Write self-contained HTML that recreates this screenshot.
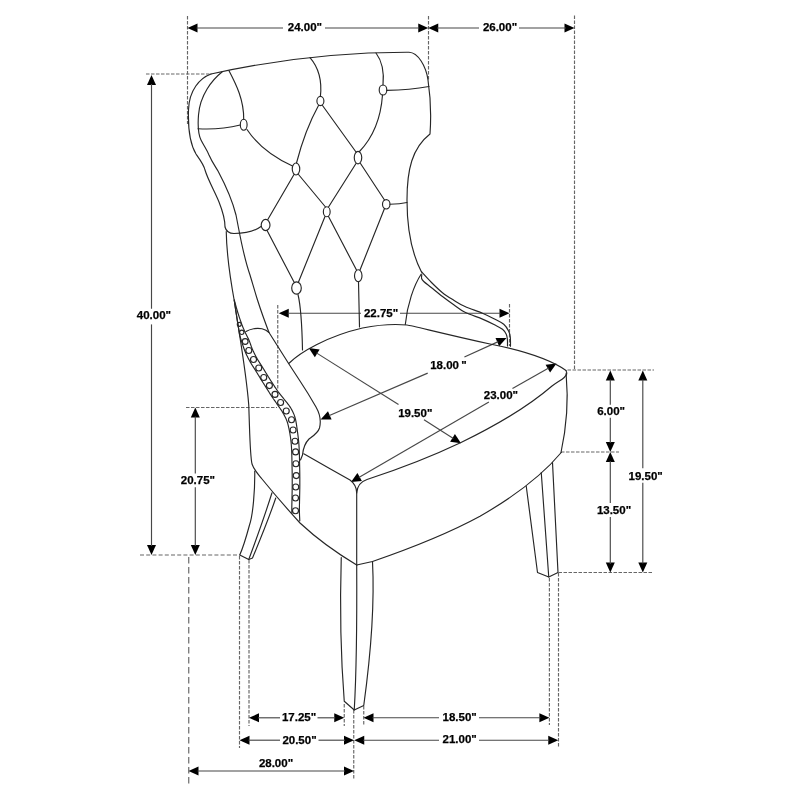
<!DOCTYPE html>
<html><head><meta charset="utf-8"><style>
html,body{margin:0;padding:0;background:#fff;}
svg{display:block;will-change:transform;}
.c{fill:none;stroke:#262626;stroke-width:1.15;stroke-linejoin:round;stroke-linecap:round;}
.d{stroke:#474747;stroke-width:1.15;}
.ds{stroke:#666;stroke-width:1.15;stroke-dasharray:3.5 1.5;}
.ds2{stroke:#666;stroke-width:1.15;stroke-dasharray:6.4 3.6;}
.ds3{stroke:#666;stroke-width:1.15;stroke-dasharray:4 2.2;}
text{font-family:"Liberation Sans",sans-serif;font-weight:bold;font-size:11.5px;fill:#000;stroke:#000;stroke-width:0.25;}
</style></head><body>
<svg width="800" height="800" viewBox="0 0 800 800">
<rect width="800" height="800" fill="#fff"/>
<line x1="187.5" y1="16" x2="187.5" y2="124" class="ds"/>
<line x1="428.5" y1="16" x2="428.5" y2="80" class="ds"/>
<line x1="574.5" y1="15.5" x2="574.5" y2="370" class="ds"/>
<line x1="146" y1="74" x2="211" y2="74" class="ds"/>
<line x1="509.5" y1="304" x2="509.5" y2="346" class="ds"/>
<line x1="277.75" y1="305" x2="277.75" y2="389" class="ds"/>
<line x1="186" y1="407.5" x2="277" y2="407.5" class="ds"/>
<line x1="140" y1="555" x2="240" y2="555" class="ds3"/>
<line x1="567.5" y1="370" x2="654" y2="370" class="ds"/>
<line x1="561" y1="452" x2="619" y2="452" class="ds"/>
<line x1="558.5" y1="572.5" x2="652.5" y2="572.5" class="ds"/>
<line x1="188.75" y1="557" x2="188.75" y2="784" class="ds2"/>
<line x1="239.5" y1="556" x2="239.5" y2="748" class="ds"/>
<line x1="249" y1="560" x2="249" y2="726" class="ds"/>
<line x1="344.25" y1="704" x2="344.25" y2="726" class="ds"/>
<line x1="353.75" y1="710" x2="353.75" y2="779" class="ds"/>
<line x1="363.75" y1="706" x2="363.75" y2="726" class="ds"/>
<line x1="549.4" y1="578" x2="549.4" y2="725" class="ds"/>
<line x1="558.5" y1="573" x2="558.5" y2="747" class="ds"/>
<path d="M187.50,28.00L197.50,23.50L197.50,32.50Z" fill="#000"/>
<path d="M428.25,28.00L418.25,32.50L418.25,23.50Z" fill="#000"/>
<line x1="196.5" y1="28" x2="283" y2="28" class="d"/>
<line x1="325" y1="28" x2="419.25" y2="28" class="d"/>
<path d="M428.25,28.00L438.25,23.50L438.25,32.50Z" fill="#000"/>
<path d="M574.50,28.00L564.50,32.50L564.50,23.50Z" fill="#000"/>
<line x1="437" y1="28" x2="479" y2="28" class="d"/>
<line x1="519" y1="28" x2="566" y2="28" class="d"/>
<text x="304.90" y="30.77" text-anchor="middle">24.00"</text>
<text x="500.00" y="30.77" text-anchor="middle">26.00"</text>
<path d="M151.50,75.00L156.00,85.00L147.00,85.00Z" fill="#000"/>
<path d="M151.50,555.00L147.00,545.00L156.00,545.00Z" fill="#000"/>
<line x1="151.5" y1="84" x2="151.5" y2="308.75" class="d"/>
<line x1="151.5" y1="324.4" x2="151.5" y2="546" class="d"/>
<text x="153.90" y="319.42" text-anchor="middle">40.00"</text>
<path d="M195.30,407.50L199.80,417.50L190.80,417.50Z" fill="#000"/>
<path d="M195.30,555.00L190.80,545.00L199.80,545.00Z" fill="#000"/>
<line x1="195.3" y1="416.5" x2="195.3" y2="473.4" class="d"/>
<line x1="195.3" y1="487.2" x2="195.3" y2="546" class="d"/>
<text x="197.95" y="484.42" text-anchor="middle">20.75"</text>
<path d="M278.75,313.20L288.75,308.70L288.75,317.70Z" fill="#000"/>
<path d="M509.50,313.20L499.50,317.70L499.50,308.70Z" fill="#000"/>
<line x1="287.75" y1="313.2" x2="361" y2="313.2" class="d"/>
<line x1="400" y1="313.2" x2="500.5" y2="313.2" class="d"/>
<text x="381.10" y="316.92" text-anchor="middle">22.75"</text>
<path d="M308.75,348.10L319.62,349.58L314.85,357.21Z" fill="#000"/>
<path d="M461.00,443.20L450.13,441.72L454.90,434.09Z" fill="#000"/>
<line x1="316.38" y1="352.87" x2="398.5" y2="404.4" class="d"/>
<line x1="424" y1="419.8" x2="453.37" y2="438.43" class="d"/>
<text x="415.25" y="416.52" text-anchor="middle">19.50"</text>
<path d="M320.60,419.40L327.96,411.27L331.57,419.51Z" fill="#000"/>
<path d="M506.50,338.00L499.14,346.13L495.53,337.89Z" fill="#000"/>
<line x1="328.84" y1="415.79" x2="427.7" y2="373.1" class="d"/>
<line x1="464.4" y1="357.1" x2="498.26" y2="341.61" class="d"/>
<text x="448.50" y="369.12" text-anchor="middle">18.00&#8201;"</text>
<path d="M351.00,482.00L357.42,473.11L361.91,480.91Z" fill="#000"/>
<path d="M556.50,363.60L550.08,372.49L545.59,364.69Z" fill="#000"/>
<line x1="358.80" y1="477.51" x2="488.9" y2="402.1" class="d"/>
<line x1="512.5" y1="388.6" x2="548.70" y2="368.09" class="d"/>
<text x="500.90" y="399.32" text-anchor="middle">23.00"</text>
<path d="M610.30,370.50L614.80,380.50L605.80,380.50Z" fill="#000"/>
<path d="M610.30,452.00L605.80,442.00L614.80,442.00Z" fill="#000"/>
<line x1="610.3" y1="379.5" x2="610.3" y2="404.75" class="d"/>
<line x1="610.3" y1="417.75" x2="610.3" y2="443" class="d"/>
<path d="M610.30,452.00L614.80,462.00L605.80,462.00Z" fill="#000"/>
<path d="M610.30,572.50L605.80,562.50L614.80,562.50Z" fill="#000"/>
<line x1="610.3" y1="461" x2="610.3" y2="503" class="d"/>
<line x1="610.3" y1="517" x2="610.3" y2="564" class="d"/>
<text x="611.10" y="415.37" text-anchor="middle">6.00"</text>
<text x="614.00" y="514.12" text-anchor="middle">13.50"</text>
<path d="M642.80,370.50L647.30,380.50L638.30,380.50Z" fill="#000"/>
<path d="M642.80,572.50L638.30,562.50L647.30,562.50Z" fill="#000"/>
<line x1="642.8" y1="379.5" x2="642.8" y2="468.2" class="d"/>
<line x1="642.8" y1="482.8" x2="642.8" y2="563.5" class="d"/>
<text x="645.70" y="480.02" text-anchor="middle">19.50"</text>
<path d="M249.00,717.80L259.00,713.30L259.00,722.30Z" fill="#000"/>
<path d="M344.25,717.80L334.25,722.30L334.25,713.30Z" fill="#000"/>
<line x1="258" y1="717.8" x2="280" y2="717.8" class="d"/>
<line x1="317.5" y1="717.8" x2="335.25" y2="717.8" class="d"/>
<text x="299.10" y="721.12" text-anchor="middle">17.25"</text>
<path d="M239.50,740.20L249.50,735.70L249.50,744.70Z" fill="#000"/>
<path d="M354.00,740.20L344.00,744.70L344.00,735.70Z" fill="#000"/>
<line x1="248.5" y1="740.2" x2="280" y2="740.2" class="d"/>
<line x1="318.5" y1="740.2" x2="345" y2="740.2" class="d"/>
<text x="299.50" y="743.62" text-anchor="middle">20.50"</text>
<path d="M188.50,771.00L198.50,766.50L198.50,775.50Z" fill="#000"/>
<path d="M354.00,771.00L344.00,775.50L344.00,766.50Z" fill="#000"/>
<line x1="197.5" y1="771" x2="345" y2="771" class="d"/>
<text x="276.00" y="767.37" text-anchor="middle">28.00"</text>
<path d="M363.50,717.70L373.50,713.20L373.50,722.20Z" fill="#000"/>
<path d="M549.40,717.70L539.40,722.20L539.40,713.20Z" fill="#000"/>
<line x1="372.5" y1="717.7" x2="439" y2="717.7" class="d"/>
<line x1="479" y1="717.7" x2="540.4" y2="717.7" class="d"/>
<text x="459.70" y="720.87" text-anchor="middle">18.50"</text>
<path d="M354.25,740.20L364.25,735.70L364.25,744.70Z" fill="#000"/>
<path d="M558.25,740.20L548.25,744.70L548.25,735.70Z" fill="#000"/>
<line x1="363.25" y1="740.2" x2="439" y2="740.2" class="d"/>
<line x1="479" y1="740.2" x2="549.25" y2="740.2" class="d"/>
<text x="459.70" y="743.37" text-anchor="middle">21.00"</text>
<path d="M211,74 Q310,52 409,52.3 C418,52.6 426,66 428,80 C431,100 431,120 430,134 C412,148 407,170 407,200 C407,225 410,250 421.5,272" class="c"/>
<path d="M211,74 C200,78 189,90 188.5,110 C188,125 189,142 196,154 C201,161 204,165 205,170 C208,180 215,192 219,202 C223,212 225,220 225,227 C226,231 229,233.5 234,233.5 C245,233.5 255,231 261,226.5" class="c"/>
<path d="M222.25,71.75 C212,80 200,95 198.5,115 C197.5,128 198,134 201,140 C204,146 207,150 209,155 C212,162 215,166 218,171 C226,186 233,203 236,215 C240,235 243,255 250,275 C253,285 255,292 257.5,300 C261,311 265,322 269,332.5" class="c"/>
<path d="M226.25,231.5 C226.5,250 229,272 234.5,302 C238.5,330 246,370 248.75,405 C250,440 250,455 252,464 C254,470 258,474 262,479 C275,495 290,512 300,523 C315,537 335,552 356.7,565" class="c"/>
<path d="M234.30,300.00 L234.36,300.72 L234.44,301.65 L234.61,302.74 L234.78,303.97 L234.98,305.30 L235.19,306.69 L235.40,308.12 L235.61,309.54 L235.82,310.92 L236.02,312.22 L236.22,313.51 L236.43,314.83 L236.64,316.18 L236.85,317.54 L237.06,318.89 L237.27,320.23 L237.48,321.53 L237.68,322.78 L237.87,323.97 L238.04,325.07 L238.20,326.09 L238.35,327.02 L238.49,327.89 L238.62,328.71 L238.75,329.50 L238.87,330.27 L238.99,331.04 L239.11,331.82 L239.24,332.62 L239.38,333.49 L239.52,334.40 L239.74,335.33 L240.02,336.26 L240.30,337.20 L240.59,338.15 L240.88,339.09 L241.16,340.03 L241.45,340.97 L241.72,341.90 L241.99,342.82 L242.28,343.73 L242.60,344.65 L242.93,345.58 L243.26,346.54 L243.60,347.51 L243.95,348.49 L244.31,349.49 L244.69,350.49 L245.09,351.50 L245.51,352.50 L245.94,353.47 L246.37,354.43 L246.82,355.39 L247.28,356.33 L247.74,357.27 L248.22,358.20 L248.70,359.12 L249.19,360.04 L249.68,360.95 L250.19,361.87 L250.72,362.79 L251.26,363.70 L251.80,364.59 L252.36,365.47 L252.91,366.33 L253.45,367.18 L254.00,368.02 L254.53,368.85 L255.06,369.68 L255.57,370.50 L256.09,371.34 L256.60,372.18 L257.12,373.02 L257.63,373.87 L258.15,374.72 L258.66,375.57 L259.19,376.42 L259.71,377.28 L260.24,378.14 L260.77,379.00 L261.30,379.86 L261.84,380.72 L262.38,381.58 L262.92,382.44 L263.46,383.30 L264.00,384.17 L264.55,385.03 L265.09,385.89 L265.64,386.76 L266.19,387.63 L266.74,388.50 L267.29,389.38 L267.85,390.27 L268.41,391.16 L268.97,392.06 L269.54,392.96 L270.11,393.85 L270.68,394.74 L271.26,395.63 L271.83,396.50 L272.41,397.36 L272.98,398.21 L273.56,399.03 L274.12,399.85 L274.69,400.65 L275.25,401.45 L275.80,402.24 L276.36,403.03 L276.91,403.83 L277.46,404.64 L278.04,405.49 L278.63,406.34 L279.22,407.18 L279.80,408.02 L280.37,408.85 L280.93,409.68 L281.48,410.50 L282.00,411.31 L282.49,412.10 L282.96,412.91 L283.43,413.73 L283.89,414.55 L284.33,415.36 L284.76,416.16 L285.16,416.96 L285.55,417.76 L285.92,418.56 L286.27,419.37 L286.61,420.19 L286.92,421.04 L287.22,421.90 L287.50,422.79 L287.77,423.71 L288.02,424.65 L288.27,425.62 L288.50,426.61 L288.73,427.62 L288.95,428.64 L289.16,429.69 L289.37,430.74 L289.58,431.79 L289.77,432.86 L289.96,433.95 L290.14,435.05 L290.31,436.16 L290.47,437.27 L290.63,438.38 L290.77,439.49 L290.90,440.58 L291.02,441.66 L291.13,442.71 L291.22,443.74 L291.31,444.76 L291.38,445.78 L291.44,446.80 L291.50,447.84 L291.56,448.88 L291.61,449.95 L291.65,451.04 L291.70,452.16 L291.75,453.29 L291.79,454.45 L291.82,455.63 L291.85,456.83 L291.88,458.04 L291.91,459.25 L291.93,460.47 L291.95,461.68 L291.98,462.89 L292.00,464.08 L292.03,465.25 L292.05,466.40 L292.07,467.55 L292.10,468.69 L292.12,469.82 L292.14,470.95 L292.16,472.09 L292.17,473.23 L292.19,474.37 L292.20,475.53 L292.21,476.71 L292.22,477.91 L292.22,479.12 L292.22,480.34 L292.23,481.56 L292.22,482.78 L292.22,483.98 L292.22,485.17 L292.21,486.33 L292.20,487.46 L292.19,488.55 L292.17,489.60 L292.16,490.62 L292.14,491.62 L292.11,492.62 L292.09,493.62 L292.07,494.65 L292.04,495.70 L292.02,496.79 L292.00,497.93 L291.98,499.12 L291.95,500.36 L291.92,501.65 L291.89,502.97 L291.86,504.31 L291.84,505.66 L291.82,506.99 L291.80,508.29 L291.80,509.56 L291.80,510.79 L291.82,512.00 L291.85,513.24 L291.89,513.54" class="c"/>
<path d="M234.30,300.00 L234.49,300.70 L234.73,301.60 L235.01,302.66 L235.33,303.85 L235.68,305.14 L236.04,306.48 L236.42,307.85 L236.81,309.22 L237.19,310.53 L237.56,311.78 L237.94,312.99 L238.34,314.25 L238.75,315.53 L239.18,316.82 L239.61,318.11 L240.04,319.37 L240.46,320.60 L240.87,321.78 L241.27,322.89 L241.64,323.93 L241.99,324.87 L242.31,325.72 L242.62,326.50 L242.91,327.24 L243.20,327.94 L243.48,328.62 L243.78,329.30 L244.09,330.00 L244.42,330.73 L244.77,331.51 L245.14,332.31 L245.53,333.13 L245.94,333.96 L246.36,334.80 L246.79,335.67 L247.23,336.54 L247.67,337.43 L248.12,338.34 L248.57,339.25 L249.01,340.18 L249.42,341.13 L249.77,342.11 L250.11,343.08 L250.44,344.04 L250.77,344.99 L251.10,345.93 L251.44,346.85 L251.78,347.75 L252.13,348.63 L252.49,349.50 L252.87,350.37 L253.27,351.25 L253.68,352.12 L254.10,352.99 L254.53,353.86 L254.97,354.72 L255.42,355.58 L255.88,356.44 L256.34,357.29 L256.81,358.13 L257.28,358.96 L257.76,359.77 L258.26,360.58 L258.78,361.40 L259.31,362.23 L259.84,363.07 L260.39,363.91 L260.94,364.76 L261.49,365.63 L262.03,366.50 L262.56,367.36 L263.09,368.22 L263.61,369.07 L264.12,369.92 L264.64,370.77 L265.16,371.62 L265.67,372.46 L266.19,373.31 L266.71,374.15 L267.23,375.00 L267.76,375.85 L268.29,376.70 L268.83,377.55 L269.36,378.40 L269.90,379.25 L270.45,380.11 L270.99,380.96 L271.54,381.82 L272.09,382.68 L272.65,383.55 L273.22,384.42 L273.79,385.30 L274.36,386.18 L274.94,387.06 L275.52,387.93 L276.10,388.80 L276.68,389.65 L277.27,390.49 L277.86,391.31 L278.44,392.12 L279.03,392.90 L279.61,393.66 L280.21,394.42 L280.81,395.17 L281.42,395.92 L282.04,396.68 L282.66,397.44 L283.30,398.21 L283.94,399.00 L284.57,399.79 L285.20,400.56 L285.83,401.34 L286.48,402.13 L287.13,402.95 L287.79,403.78 L288.45,404.64 L289.09,405.52 L289.72,406.43 L290.34,407.36 L290.91,408.29 L291.44,409.20 L291.94,410.10 L292.42,411.01 L292.88,411.94 L293.32,412.90 L293.75,413.88 L294.14,414.88 L294.52,415.91 L294.86,416.97 L295.18,418.06 L295.47,419.18 L295.72,420.30 L295.95,421.42 L296.15,422.54 L296.33,423.65 L296.50,424.77 L296.66,425.88 L296.82,426.99 L296.97,428.09 L297.13,429.20 L297.29,430.34 L297.45,431.49 L297.61,432.66 L297.77,433.84 L297.92,435.02 L298.07,436.20 L298.21,437.37 L298.35,438.54 L298.48,439.70 L298.60,440.84 L298.71,441.97 L298.81,443.08 L298.89,444.18 L298.97,445.27 L299.03,446.35 L299.09,447.43 L299.15,448.51 L299.20,449.60 L299.25,450.71 L299.30,451.84 L299.34,453.01 L299.39,454.21 L299.42,455.42 L299.45,456.64 L299.48,457.87 L299.51,459.10 L299.53,460.33 L299.55,461.54 L299.58,462.74 L299.60,463.92 L299.62,465.09 L299.65,466.24 L299.67,467.39 L299.70,468.54 L299.72,469.68 L299.74,470.82 L299.76,471.97 L299.77,473.13 L299.79,474.29 L299.80,475.47 L299.81,476.66 L299.82,477.87 L299.82,479.10 L299.82,480.33 L299.83,481.56 L299.82,482.79 L299.82,484.01 L299.82,485.21 L299.81,486.38 L299.80,487.54 L299.79,488.65 L299.77,489.72 L299.75,490.76 L299.73,491.78 L299.71,492.79 L299.69,493.80 L299.67,494.82 L299.64,495.86 L299.62,496.94 L299.60,498.07 L299.58,499.27 L299.55,500.53 L299.52,501.82 L299.49,503.14 L299.46,504.47 L299.44,505.79 L299.42,507.09 L299.40,508.35 L299.40,509.57 L299.40,510.71 L299.42,511.85 L299.45,513.01 L299.49,514.19 L299.53,515.36 L299.58,516.50 L299.64,517.57 L299.69,518.56 L299.73,519.45 L299.77,520.22 L299.80,520.83" class="c"/>
<circle cx="239.3" cy="324.3" r="2" class="c" fill="#fff"/>
<circle cx="241.75" cy="332.3" r="2.2" class="c" fill="#fff"/>
<circle cx="245.2" cy="341.5" r="2.9" class="c" fill="#fff"/>
<circle cx="248.8" cy="350.5" r="3" class="c" fill="#fff"/>
<circle cx="253.5" cy="359.5" r="3" class="c" fill="#fff"/>
<circle cx="258.75" cy="368" r="3" class="c" fill="#fff"/>
<circle cx="263.75" cy="377.5" r="3" class="c" fill="#fff"/>
<circle cx="269.4" cy="385.6" r="3" class="c" fill="#fff"/>
<circle cx="275" cy="394.4" r="3" class="c" fill="#fff"/>
<circle cx="280.6" cy="402.5" r="3" class="c" fill="#fff"/>
<circle cx="286.25" cy="411" r="3" class="c" fill="#fff"/>
<circle cx="291.5" cy="419.75" r="3" class="c" fill="#fff"/>
<circle cx="293.1" cy="430" r="3" class="c" fill="#fff"/>
<circle cx="295" cy="441.25" r="3" class="c" fill="#fff"/>
<circle cx="295.6" cy="451.9" r="3" class="c" fill="#fff"/>
<circle cx="295.9" cy="463.75" r="3" class="c" fill="#fff"/>
<circle cx="296.25" cy="475.6" r="3" class="c" fill="#fff"/>
<circle cx="295.75" cy="487" r="3" class="c" fill="#fff"/>
<circle cx="295.5" cy="498" r="3" class="c" fill="#fff"/>
<circle cx="295.5" cy="510.75" r="3" class="c" fill="#fff"/>
<path d="M246,331.5 C250,329 257,327.5 262,328.8 C266,329.8 268,331.5 269,332.5 L288.75,363.75 L300,381 C306,390 312,400 316,407 C320,414 321,422 319.5,428 C318,433 313,436 309,439 C305,443 303,450 302.5,455 L300.5,460" class="c"/>
<path d="M254.75,471 C255,490 253,515 249.5,525 C246,538 242,550 239.75,555 L248.75,559.5 L252.5,558 C260,540 270,515 275.75,498" class="c"/>
<path d="M248.75,559.5 C256,540 265,515 272,492.75" class="c"/>
<path d="M303.75,453.75 L330,468.75 L350,480 C354,483 356.7,488 356.7,493 L356.7,565" class="c"/>
<path d="M356.7,493 C357.2,485 361,481.5 367,479.5 C390,472 420,462 461,442.5 C495,426 530,405 552,386 C560,380 566.5,378 566.25,373" class="c"/>
<path d="M566,370.5 C567,372 567,374 566.25,376 C568,395 568,420 561,452.5" class="c"/>
<path d="M356.7,565 L372.5,561.5 C400,552 440,538 480,516.25 C510,499 540,478 561.25,452.5" class="c"/>
<path d="M288.75,363.5 C300,352 328,336 362.5,328 C380,324.5 398,324.2 407,325 C412,325.5 440,333 490,344 C520,350 548,358 566,370.5" class="c"/>
<path d="M298,294.5 C300.5,305 302,325 302.5,350" class="c"/>
<path d="M358.5,281.75 L359.5,327" class="c"/>
<path d="M421.5,271.75 C423.12,273.50 427.75,278.75 431.25,282.25 C434.75,285.75 438.75,289.75 442.5,292.75 C446.25,295.75 450.00,297.94 453.75,300.25 C457.50,302.56 460.21,304.44 465,306.6 C469.79,308.76 477.50,311.08 482.5,313.2 C487.50,315.32 491.46,317.45 495,319.3 C498.54,321.15 501.48,322.35 503.75,324.3 C506.02,326.25 507.51,328.88 508.6,331 C509.69,333.12 509.98,334.45 510.3,337 C510.62,339.55 510.47,344.75 510.5,346.3" class="c"/>
<path d="M421.8,274.5 C421.77,275.17 421.28,277.33 421.6,278.5 C421.93,279.67 422.14,280.00 423.75,281.5 C425.36,283.00 428.12,285.00 431.25,287.5 C434.38,290.00 438.75,293.62 442.5,296.5 C446.25,299.38 450.00,302.12 453.75,304.75 C457.50,307.38 460.21,309.91 465,312.3 C469.79,314.69 477.50,316.98 482.5,319.1 C487.50,321.22 491.67,323.30 495,325 C498.33,326.70 500.62,327.77 502.5,329.3 C504.38,330.83 505.43,332.50 506.25,334.2 C507.07,335.90 507.19,337.53 507.4,339.5 C507.61,341.47 507.48,344.92 507.5,346" class="c"/>
<path d="M421.25,274 C414,285 407,305 405.3,324.5" class="c"/>
<path d="M341.25,557.5 C340,600 341,660 344.25,701.25 L354.25,710 L363.75,705.5 C370,660 375,610 372.5,561.5" class="c"/>
<path d="M356.7,565 C357,620 356,680 354.25,710" class="c"/>
<path d="M526.25,486.25 L537.5,572.5 L548.75,577 L558,572.5 L552.5,462.5" class="c"/>
<path d="M541.25,472.5 L548.75,577" class="c"/>
<path d="M229,70.7 C236,84 244,100 243.7,119.2" class="c"/>
<path d="M198,128.75 Q220,130 240.3,125" class="c"/>
<path d="M247,129.5 Q262,152 292.5,166" class="c"/>
<path d="M310,57.6 C319,68 322,82 320.4,96.4" class="c"/>
<path d="M318.5,105.5 Q305,130 296.5,163" class="c"/>
<path d="M322.5,105.5 L356,152" class="c"/>
<path d="M376,53 Q385,65 383,85" class="c"/>
<path d="M386.8,90.4 Q410,90 429,86.5" class="c"/>
<path d="M382.5,95 Q380,130 359.5,151.5" class="c"/>
<path d="M294,174.5 L267.8,219.5" class="c"/>
<path d="M298.5,174.5 L325.5,207" class="c"/>
<path d="M356,163.5 L328.5,207" class="c"/>
<path d="M360.5,163.5 L384.5,200" class="c"/>
<path d="M267.2,230.8 L294,282" class="c"/>
<path d="M325,216.5 L298.5,282" class="c"/>
<path d="M328.5,216.5 L356.5,270" class="c"/>
<path d="M384.5,208.5 L360,270" class="c"/>
<path d="M390,204.2 Q400,204 407,202.5" class="c"/>
<ellipse cx="243.7" cy="124.7" rx="3.4" ry="5.5" class="c" fill="#fff"/>
<ellipse cx="320.4" cy="101" rx="3.5" ry="4.6" class="c" fill="#fff"/>
<ellipse cx="383" cy="90" rx="3.8" ry="5" class="c" fill="#fff"/>
<ellipse cx="296" cy="169" rx="3.75" ry="6" class="c" fill="#fff"/>
<ellipse cx="358" cy="157.6" rx="3.75" ry="6.2" class="c" fill="#fff"/>
<ellipse cx="386.25" cy="204.25" rx="3.75" ry="4.7" class="c" fill="#fff"/>
<ellipse cx="265.6" cy="225" rx="4.4" ry="5.6" class="c" fill="#fff"/>
<ellipse cx="326.75" cy="211.75" rx="3.4" ry="5" class="c" fill="#fff"/>
<ellipse cx="296.5" cy="288" rx="4.8" ry="6.2" class="c" fill="#fff"/>
<ellipse cx="358.25" cy="275.75" rx="3.75" ry="6" class="c" fill="#fff"/>
</svg>
</body></html>
